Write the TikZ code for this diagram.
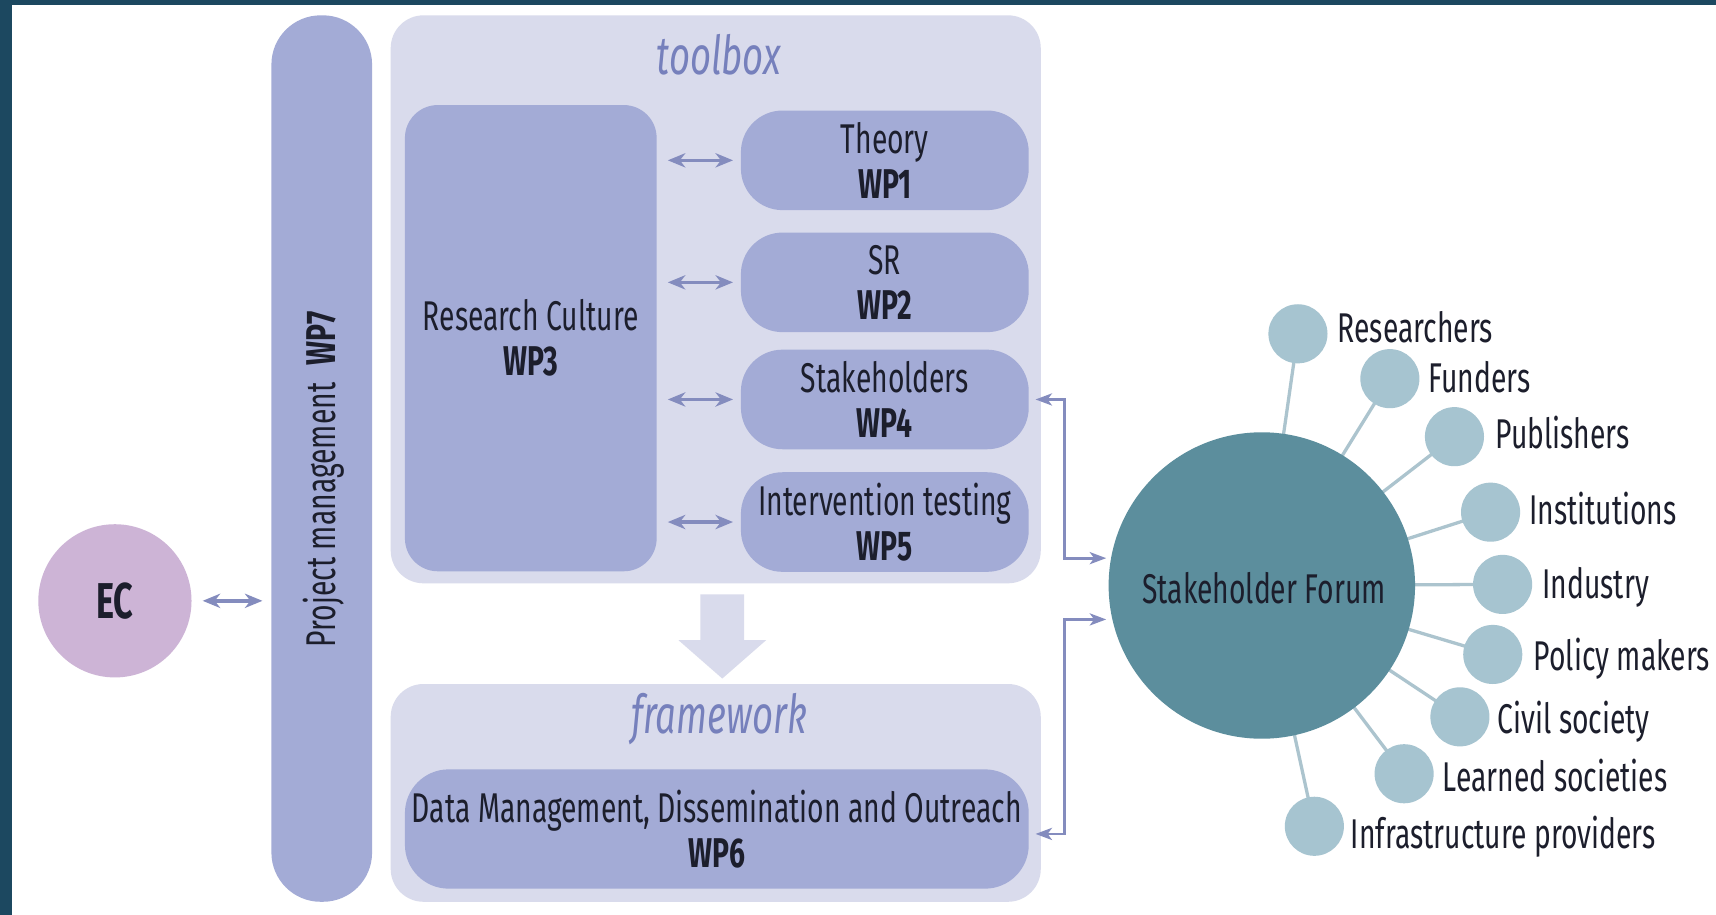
\documentclass[tikz,border=0pt]{standalone}
\usepackage{fontspec}
\setmainfont{Fira Sans}[FakeStretch=0.68]
\usetikzlibrary{arrows.meta,calc,backgrounds}
\definecolor{framec}{RGB}{28,72,96}
\definecolor{wpfill}{RGB}{163,171,214}
\definecolor{contfill}{RGB}{217,219,236}
\definecolor{arrowc}{RGB}{132,140,190}
\definecolor{titlec}{RGB}{118,128,188}
\definecolor{ecfill}{RGB}{205,180,214}
\definecolor{sffill}{RGB}{92,142,157}
\definecolor{memfill}{RGB}{166,196,208}
\definecolor{spokec}{RGB}{172,196,206}
\definecolor{ink}{RGB}{28,30,44}
\newcommand\mainfs{\fontsize{38}{41}\selectfont}
\newcommand\titlefs{\fontsize{49}{54}\selectfont\itshape}
\tikzset{ctip/.tip={Stealth[length=15pt,width=11pt,inset=4pt]},
  dtip/.tip={Stealth[length=16pt,width=13pt,inset=5pt]}}
\begin{document}
\begin{tikzpicture}[x=1pt,y=-1pt,
  every node/.style={font=\mainfs, text=ink, inner sep=0pt, align=center},
  container/.style={fill=contfill, rounded corners=30pt, minimum width=594pt},
  wpbox/.style={fill=wpfill, rounded corners=38pt, minimum width=263pt, minimum height=91pt},
  dbl/.style={draw=arrowc, line width=3.2pt, dtip-dtip},
  conn/.style={draw=arrowc, line width=2.6pt, ctip-ctip},
  member/.style={circle, fill=memfill, minimum size=54pt},
  memlabel/.style={anchor=west, text height=26pt, text depth=8pt},
  spoke/.style={draw=spokec, line width=3pt},
  titletext/.style={font=\titlefs, text=titlec}]
\path[use as bounding box] (0,0) rectangle (1568,836);
\begin{scope}[on background layer]
\fill[framec] (0,0) rectangle (1568,836);
\fill[white] (11,4.5) rectangle (1568,836);
\end{scope}

% left part
\node[circle, fill=ecfill, minimum size=140pt, font=\fontsize{46}{50}\selectfont\bfseries] (ec) at (105,549) {EC};
\node[fill=wpfill, rounded corners=45pt, minimum width=92pt, minimum height=810pt] (pm) at (294,419) {};
\node[rotate=90] (pmt) at (296,438) {Project management\hspace{16pt}\textbf{WP7}};
\draw[dbl, shorten <=10pt, shorten >=8pt] (ec.east) -- (ec.east -| pm.west);

% toolbox
\node[container, minimum height=519pt] (tb) at (654,273.5) {};
\node[titletext] (tbt) at (657,50) {toolbox};
\node[fill=wpfill, rounded corners=30pt, minimum width=230pt, minimum height=426pt] (rc) at (485,309) {Research Culture\\\textbf{WP3}};
\node[wpbox] (wp1) at (808.5,146.5) {Theory\\\textbf{WP1}};
\node[wpbox] (wp2) at (808.5,258) {SR\\\textbf{WP2}};
\node[wpbox] (wp4) at (808.5,365) {Stakeholders\\\textbf{WP4}};
\node[wpbox] (wp5) at (808.5,477) {Intervention testing\\\textbf{WP5}};
\foreach \w in {wp1,wp2,wp4,wp5}
  \draw[dbl, shorten <=10pt, shorten >=7pt] (rc.east |- \w.west) -- (\w.west);

% down arrow
\fill[contfill] (640,543) -- (680,543) -- (680,585) -- (700,585) -- (660,620) -- (620,585) -- (640,585) -- cycle;

% framework
\node[container, minimum height=199pt] (fw) at (654,724.5) {};
\node[titletext] (fwt) at (657,657) {framework};
\node[fill=wpfill, rounded corners=40pt, minimum width=570pt, minimum height=109pt] (wp6) at (655,757.5) {Data Management, Dissemination and Outreach\\\textbf{WP6}};

% stakeholder forum
\node[circle, fill=sffill, minimum size=280pt] (sf) at (1153,535) {};
\node (sft) at (1155,537) {Stakeholder Forum};
\coordinate (in1) at ([shift={(-2,-25)}]sf.west);
\coordinate (in2) at ([shift={(-2,31)}]sf.west);
\coordinate (jx) at (973,0);
\draw[conn] ([xshift=6pt]wp4.east) -| (jx |- in1) -- (in1);
\draw[conn] ([shift={(6,4.5)}]wp6.east) -| (jx |- in2) -- (in2);

% members
\node[member] (m1) at (1186,305) {};
\node[member] (m2) at (1270,346) {};
\node[member] (m3) at (1329,399) {};
\node[member] (m4) at (1362,468) {};
\node[member] (m5) at (1373,534) {};
\node[member] (m6) at (1364,598) {};
\node[member] (m7) at (1334,655) {};
\node[member] (m8) at (1283,707) {};
\node[member] (m9) at (1201,755) {};
\begin{scope}[on background layer]
\foreach \m in {m1,m2,m3,m4,m5,m6,m7,m8,m9}
  \draw[spoke] (sf.center) -- (\m.center);
\end{scope}
\node[memlabel] (l1) at ([shift={(9,-1)}]m1.east) {Researchers};
\node[memlabel] (l2) at ([shift={(8,4)}]m2.east) {Funders};
\node[memlabel] (l3) at ([shift={(10,2)}]m3.east) {Publishers};
\node[memlabel] (l4) at ([shift={(8,2)}]m4.east) {Institutions};
\node[memlabel] (l5) at ([shift={(9,4)}]m5.east) {Industry};
\node[memlabel] (l6) at ([shift={(10,6)}]m6.east) {Policy makers};
\node[memlabel] (l7) at ([shift={(7,6)}]m7.east) {Civil society};
\node[memlabel] (l8) at ([shift={(8,7)}]m8.east) {Learned societies};
\node[memlabel] (l9) at ([shift={(6,11)}]m9.east) {Infrastructure providers};
\end{tikzpicture}
\end{document}
